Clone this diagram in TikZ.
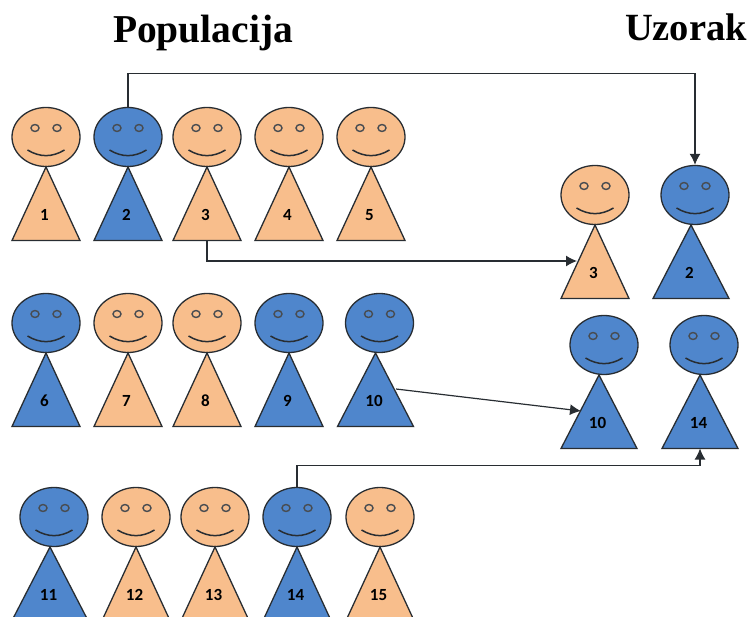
\documentclass[tikz,border=0pt]{standalone}
\usepackage{fontspec}
\setmainfont{Liberation Serif}
\newfontfamily\numfont{Carlito}
\usetikzlibrary{arrows.meta,shapes.geometric,calc}
\definecolor{skin}{RGB}{248,190,140}
\definecolor{myblue}{RGB}{79,134,204}
\definecolor{outline}{RGB}{40,45,50}

\tikzset{
    head/.style={draw=outline, line width=1.3pt, ellipse, inner sep=0pt, minimum width=68pt, minimum height=59pt},
    eye/.style={draw=outline!85, line width=1.4pt, ellipse, inner sep=0pt, minimum width=8pt, minimum height=7pt},
    body/.style={draw=outline, line width=1.3pt, line join=miter},
    smile/.style={draw=outline, line width=1.5pt},
    tag/.style={font=\numfont\bfseries\fontsize{17}{17}\selectfont, text=black, inner sep=0pt},
    heading/.style={font=\bfseries\fontsize{39.5}{40}\selectfont, inner sep=0pt},
    link/.style={draw=outline, line width=1.2pt, -{Latex[length=11pt,width=11pt]}},
}

% id, head x, head y, colour, body shift, half width, number
\newcommand{\person}[7]{
    \node[head, fill=#4] (h#1) at (#2, #3) {};
    \node[eye] (el#1) at ($(h#1) + (-11, -9)$) {};
    \node[eye] (er#1) at ($(h#1) + (11, -9)$) {};
    \draw[smile] ($(h#1) + (-18.5, 13)$) .. controls ($(h#1) + (-6, 20.5)$) and ($(h#1) + (6, 20.5)$) .. ($(h#1) + (18.5, 13)$);
    \coordinate (a#1) at ($(h#1) + (#5, 30)$);
    \coordinate (b#1) at ($(a#1) + (0, 73.5)$);
    \draw[body, fill=#4] (a#1) -- ($(b#1) + (-#6, 0)$) -- ($(b#1) + (#6, 0)$) -- cycle;
    \node[tag] (n#1) at ($(a#1) + (-1.5, 48)$) {#7};
}

\begin{document}
\begin{tikzpicture}[x=1pt, y=-1pt]
    \useasboundingbox (0, 0) rectangle (751, 617);
    \clip (0, 0) rectangle (751, 617);

    % Titles
    \node[heading] (pop) at (203, 33.5) {Populacija};
    \node[heading, font=\bfseries\fontsize{38.5}{40}\selectfont] (uzo) at (686, 27) {Uzorak};

    % Population, three rows
    \foreach \i/\x/\c in {1/46/skin, 2/128/myblue, 3/207/skin, 4/289/skin, 5/371/skin}
        \person{\i}{\x}{137}{\c}{0}{34}{\i};
    \foreach \i/\x/\c in {6/46/myblue, 7/128/skin, 8/207/skin, 9/289/myblue}
        \person{\i}{\x}{323}{\c}{0}{34}{\i};
    \person{10}{379.5}{323}{myblue}{-4}{38}{10}
    \person{11}{54}{517}{myblue}{-4}{38}{11}
    \foreach \i/\x/\c in {12/136/skin, 13/215/skin, 14/297/myblue, 15/380/skin}
        \person{\i}{\x}{517}{\c}{0}{34}{\i};

    % Sample
    \person{s3}{595}{195}{skin}{0}{34}{3}
    \person{s2}{695}{195}{myblue}{-4}{38}{2}
    \person{s10}{604}{345}{myblue}{-5}{38}{10}
    \person{s14}{704}{345}{myblue}{-4}{38}{14}

    % Arrows from population to sample
    \coordinate (t3) at ($(as3) + (-18, 36)$);
    \coordinate (t10) at ($(as10) + (-18, 36)$);
    \coordinate (s10) at (396, 389);
    \draw[link] (h2.north) -- ++(0, -33.5) -| (hs2.north);
    \draw[link] (b3) |- (t3);
    \draw[link] (s10) -- (t10);
    \draw[link] (h14.north) -- ++(0, -21.5) -| (bs14);
\end{tikzpicture}
\end{document}
